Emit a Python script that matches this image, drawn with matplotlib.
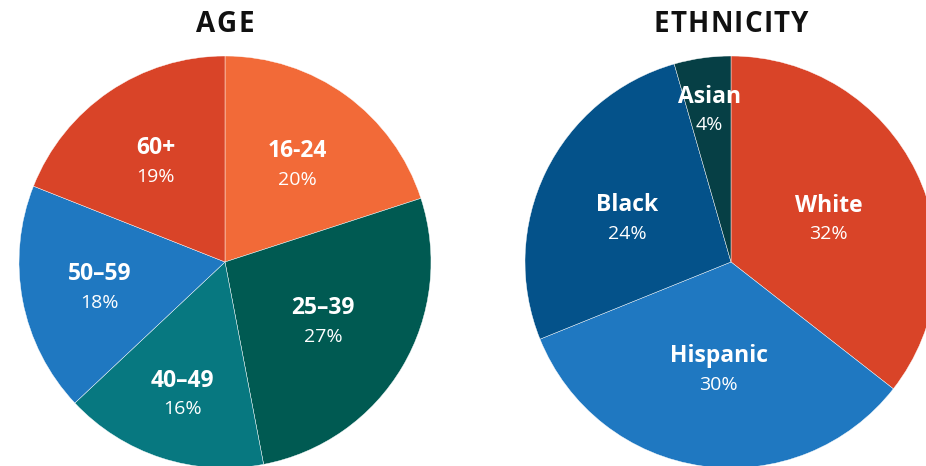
import numpy as np
import matplotlib.pyplot as plt
from matplotlib.font_manager import FontProperties

plt.rcParams['font.family'] = ['Open Sans', 'DejaVu Sans']

# Data
age_labels = ['16-24', '25–39', '40–49', '50–59', '60+']
age_values = [20, 27, 16, 18, 19]
age_colors = ['#F26A38', '#005A52', '#077880', '#1F78C1', '#D94428']

eth_labels = ['White', 'Hispanic', 'Black', 'Asian']
eth_values = [32, 30, 24, 4]
eth_colors = ['#D94428', '#1F78C1', '#04528A', '#063F45']

fig = plt.figure(figsize=(9.26, 4.66), dpi=100)
W, H = 926, 466
renderer = fig.canvas.get_renderer()


def spaced_title(cx, cy, s, size, gap):
    # letter-spaced title, laid out char by char (pixel coords)
    fp = FontProperties(family='Open Sans', weight='bold', size=size)
    widths = [renderer.get_text_width_height_descent(ch, fp, ismath=False)[0]
              for ch in s]
    x = cx - (sum(widths) + gap * (len(s) - 1)) / 2
    for ch, w in zip(s, widths):
        fig.text(x / W, 1 - cy / H, ch, ha='left', va='baseline',
                 fontproperties=fp, color='#111111')
        x += w + gap


def draw_pie(cx, cy, r, labels, values, colors, label_pos, title):
    ax = fig.add_axes([(cx - r) / W, (H - cy - r) / H, 2 * r / W, 2 * r / H])
    wedges, _ = ax.pie(values, colors=colors, startangle=90, counterclock=False,
                       radius=1, wedgeprops=dict(edgecolor='white', linewidth=0.3))
    for w in wedges:
        w.set_clip_on(False)
    ax.set_xlim(-1, 1)
    ax.set_ylim(-1, 1)
    ax.set_aspect('equal')
    ax.axis('off')

    total = sum(values)
    start = 0
    for lab, v, (lr, shift) in zip(labels, values, label_pos):
        mid = np.deg2rad((start + v / 2) / total * 360 + shift)
        start += v
        x, y = lr * np.sin(mid), lr * np.cos(mid)
        ax.text(x, y + 0.029, lab, ha='center', va='baseline', color='white',
                fontsize=16.5, fontweight='bold')
        ax.text(x, y - 0.105, f'{v}%', ha='center', va='baseline', color='white',
                fontsize=14)
    spaced_title(cx, 32, title, 20, 1.2)


draw_pie(225, 262, 206, age_labels, age_values, age_colors,
         [(0.594, 0), (0.552, 0), (0.666, 0), (0.621, 0), (0.598, 0)], 'AGE')
draw_pie(731, 262, 206, eth_labels, eth_values, eth_colors,
         [(0.521, 1.5), (0.518, -1.3), (0.549, -2.8), (0.752, 0)], 'ETHNICITY')

fig.savefig('out.png', dpi=100)
